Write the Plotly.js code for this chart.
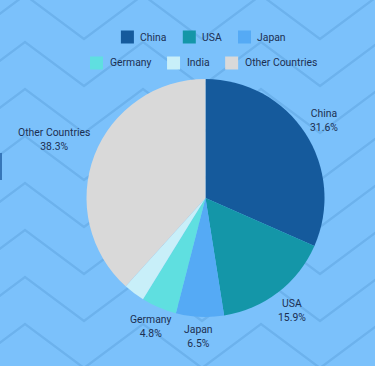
<!DOCTYPE html>
<html>
<head>
<meta charset="utf-8">
<script src="https://cdn.plot.ly/plotly-3.0.1.min.js"></script>
<style>
  html, body { margin: 0; padding: 0; }
  body { width: 375px; height: 366px; overflow: hidden; background: #7bc1fb; }
  #bg { position: absolute; left: 0; top: 0; width: 375px; height: 366px; }
  #chart { position: absolute; left: 0; top: 0; width: 375px; height: 366px; }
</style>
</head>
<body>
<svg id="bg" width="375" height="366" xmlns="http://www.w3.org/2000/svg">
  <defs>
    <pattern id="zig" x="25" y="-5" width="118" height="47" patternUnits="userSpaceOnUse">
      <path d="M-118,-47 L-59,-3 L0,-47 L59,-3 L118,-47 L177,-3 L236,-47 M-118,0 L-59,44 L0,0 L59,44 L118,0 L177,44 L236,0 M-118,47 L-59,91 L0,47 L59,91 L118,47 L177,91 L236,47" fill="none" stroke="#6cb2ed" stroke-width="2.3"/>
    </pattern>
  </defs>
  <rect width="375" height="366" fill="#7bc1fb"/>
  <rect width="375" height="366" fill="url(#zig)"/>
</svg>
<div id="chart"></div>
<script>
// ---- data ----
var countries = ["China", "USA", "Japan", "Germany", "India", "Other Countries"];
var shares = [31.6, 15.9, 6.5, 4.8, 2.9, 38.3];
var sliceColors = ["#155a9c", "#1496a8", "#55aaf5", "#5fdfe0", "#c8eff9", "#d9d9d9"];
var showLabel = [true, true, true, true, false, true];
var legendRows = [[0, 1, 2], [3, 4, 5]];

// ---- style ----
var W = 375, H = 366;
var textColor = "#1b2f52";
var fontFamily = "Roboto";
var fontSize = 10.4;
var labelGap = 6;

var pieDomain = { x: [86 / W, 325 / W], y: [49 / H, 287 / H] };

var trace = {
  type: "pie",
  labels: countries,
  values: shares,
  marker: { colors: sliceColors, line: { width: 0 } },
  sort: false,
  direction: "clockwise",
  rotation: 0,
  textinfo: "none",
  hoverinfo: "label+percent",
  showlegend: false,
  automargin: false,
  domain: pieDomain
};

var canvas = document.createElement("canvas");
var ctx = canvas.getContext("2d");
ctx.font = fontSize + "px " + fontFamily;

// ---- legend (built from the category / colour arrays) ----
var box = 13, boxGap = 5.5, itemGap = 17, centerX = 203;
var rowY = [37, 63];
var shapes = [];
var annotations = [];
legendRows.forEach(function (row, r) {
  var widths = row.map(function (i) { return ctx.measureText(countries[i]).width; });
  var total = 0;
  widths.forEach(function (w, k) { total += box + boxGap + w + (k > 0 ? itemGap : 0); });
  var x = centerX - total / 2;
  row.forEach(function (i, k) {
    var y = rowY[r];
    shapes.push({
      type: "rect", xref: "paper", yref: "paper",
      x0: x / W, x1: (x + box) / W,
      y0: 1 - (y + box / 2) / H, y1: 1 - (y - box / 2) / H,
      fillcolor: sliceColors[i], line: { width: 0 }
    });
    annotations.push({
      xref: "paper", yref: "paper",
      x: (x + box + boxGap) / W, y: 1 - y / H,
      xanchor: "left", yanchor: "middle",
      text: countries[i], showarrow: false, borderpad: 0,
      font: { family: fontFamily, size: fontSize, color: textColor }
    });
    x += box + boxGap + widths[k] + itemGap;
  });
});

// small edge marker visible at the left border of the reference
shapes.push({
  type: "rect", xref: "paper", yref: "paper",
  x0: 0, x1: 2 / W, y0: 1 - 180 / H, y1: 1 - 153 / H,
  fillcolor: "#3676b8", line: { width: 0 }
});

var layout = {
  width: W, height: H,
  margin: { l: 0, r: 0, t: 0, b: 0 },
  paper_bgcolor: "rgba(0,0,0,0)",
  plot_bgcolor: "rgba(0,0,0,0)",
  showlegend: false,
  font: { family: fontFamily, size: fontSize, color: textColor },
  shapes: shapes,
  annotations: annotations
};

Plotly.newPlot("chart", [trace], layout, { displayModeBar: false, staticPlot: true }).then(function (gd) {
  // outside slice labels, placed along each slice's mid-angle
  var cd0 = gd.calcdata && gd.calcdata[0] && gd.calcdata[0][0];
  var cx = (cd0 && cd0.cx) || ((pieDomain.x[0] + pieDomain.x[1]) / 2 * W);
  var cy = (cd0 && cd0.cy) || ((1 - (pieDomain.y[0] + pieDomain.y[1]) / 2) * H);
  var R = (cd0 && cd0.r) || Math.min((pieDomain.x[1] - pieDomain.x[0]) * W, (pieDomain.y[1] - pieDomain.y[0]) * H) / 2;
  var total = shares.reduce(function (a, b) { return a + b; }, 0);
  var lineH = fontSize * 1.3;
  var acc = 0;
  var extra = [];
  shares.forEach(function (v, i) {
    var mid = (acc + v / 2) / total * 2 * Math.PI;
    acc += v;
    if (!showLabel[i]) return;
    var pct = (v / total * 100).toFixed(1) + "%";
    var w = Math.max(ctx.measureText(countries[i]).width, ctx.measureText(pct).width);
    var h = 2 * lineH;
    var vx = Math.sin(mid), vy = -Math.cos(mid);
    var t = Math.min(Math.abs(vx) > 1e-6 ? (w / 2) / Math.abs(vx) : 1e9,
                     Math.abs(vy) > 1e-6 ? (h / 2) / Math.abs(vy) : 1e9);
    var d = R + labelGap + t;
    var px = cx + vx * d, py = cy + vy * d;
    extra.push({
      xref: "paper", yref: "paper",
      x: px / W, y: 1 - py / H,
      xanchor: "center", yanchor: "middle", align: "center",
      text: countries[i] + "<br>" + pct, showarrow: false, borderpad: 0,
      font: { family: fontFamily, size: fontSize, color: textColor }
    });
  });
  return Plotly.relayout(gd, { annotations: annotations.concat(extra) });
});
</script>
</body>
</html>
